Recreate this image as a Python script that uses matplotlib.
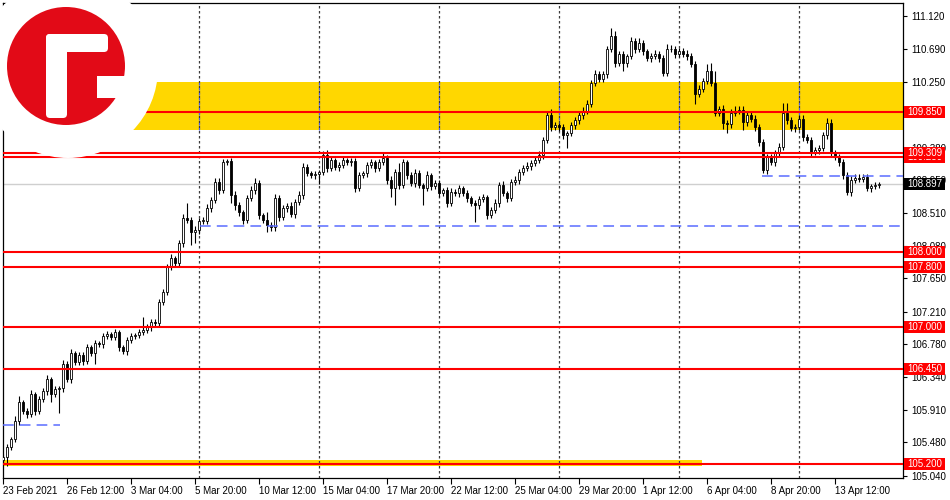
import matplotlib
matplotlib.use('Agg')
import matplotlib.pyplot as plt
import matplotlib.transforms as mtransforms
from matplotlib.patches import Rectangle, Circle, FancyBboxPatch

plt.rcParams['font.family'] = ['Liberation Sans', 'DejaVu Sans']

# ---------------- data (4H candles) ----------------
first_open = 105.25
closes = [
    105.291, 105.422, 105.527, 105.764, 106.014, 105.896, 105.856, 106.120, 105.896, 106.054,
    106.159, 106.317, 106.120, 106.185, 106.199, 106.514, 106.317, 106.659, 106.541, 106.633,
    106.554, 106.738, 106.659, 106.791, 106.785, 106.883, 106.909, 106.870, 106.935, 106.738,
    106.685, 106.830, 106.883, 106.896, 106.935, 106.962, 107.001, 107.067, 107.060, 107.343,
    107.475, 107.804, 107.922, 107.856, 108.120, 108.449, 108.422, 108.264, 108.291, 108.409,
    108.415, 108.580, 108.685, 108.922, 108.817, 109.185, 109.199, 108.751, 108.620, 108.528,
    108.422, 108.712, 108.817, 108.909, 108.488, 108.422, 108.356, 108.330, 108.712, 108.462,
    108.580, 108.606, 108.501, 108.659, 108.751, 109.120, 109.041, 109.014, 109.035, 109.054,
    109.278, 109.106, 109.212, 109.120, 109.146, 109.212, 109.185, 109.199, 108.843, 109.014,
    109.041, 109.146, 109.185, 109.106, 109.185, 109.238, 108.949, 108.843, 109.054, 108.883,
    109.185, 109.014, 108.909, 109.041, 108.883, 108.843, 109.014, 108.870, 108.909, 108.777,
    108.817, 108.646, 108.791, 108.777, 108.843, 108.777, 108.712, 108.646, 108.620, 108.705,
    108.725, 108.488, 108.554, 108.646, 108.883, 108.777, 108.712, 108.922, 108.949, 109.054,
    109.106, 109.133, 109.172, 109.212, 109.278, 109.475, 109.804, 109.646, 109.672, 109.646,
    109.541, 109.567, 109.672, 109.738, 109.804, 109.870, 109.962, 110.238, 110.356, 110.291,
    110.350, 110.685, 110.856, 110.501, 110.620, 110.495, 110.593, 110.791, 110.685, 110.764,
    110.659, 110.567, 110.593, 110.620, 110.567, 110.370, 110.685, 110.680, 110.620, 110.659,
    110.620, 110.593, 110.488, 110.093, 110.159, 110.264, 110.396, 110.238, 109.843, 109.896,
    109.699, 109.690, 109.843, 109.870, 109.875, 109.712, 109.804, 109.764, 109.646, 109.449,
    109.080, 109.251, 109.185, 109.304, 109.383, 109.843, 109.738, 109.633, 109.646, 109.764,
    109.514, 109.475, 109.317, 109.343, 109.370, 109.541, 109.699, 109.304, 109.251, 109.185,
    109.014, 108.791, 108.949, 108.975, 108.970, 108.988, 108.843, 108.870, 108.880, 108.897,
]
wick_up = [
    0.03, 0.04, 0.03, 0.07, 0.08, 0.03, 0.04, 0.05, 0.03, 0.04,
    0.04, 0.05, 0.03, 0.04, 0.03, 0.05, 0.04, 0.05, 0.03, 0.04,
    0.04, 0.05, 0.03, 0.04, 0.03, 0.05, 0.04, 0.03, 0.05, 0.03,
    0.03, 0.04, 0.04, 0.03, 0.05, 0.18, 0.04, 0.05, 0.04, 0.03,
    0.04, 0.03, 0.05, 0.03, 0.04, 0.05, 0.20, 0.04, 0.05, 0.04,
    0.04, 0.05, 0.04, 0.05, 0.05, 0.04, 0.03, 0.04, 0.05, 0.04,
    0.03, 0.04, 0.05, 0.07, 0.04, 0.03, 0.10, 0.04, 0.05, 0.04,
    0.04, 0.04, 0.05, 0.04, 0.05, 0.05, 0.04, 0.03, 0.04, 0.03,
    0.05, 0.07, 0.04, 0.03, 0.04, 0.05, 0.03, 0.04, 0.04, 0.04,
    0.03, 0.04, 0.05, 0.03, 0.04, 0.07, 0.04, 0.05, 0.04, 0.12,
    0.04, 0.03, 0.04, 0.05, 0.04, 0.03, 0.05, 0.03, 0.04, 0.04,
    0.03, 0.04, 0.05, 0.04, 0.04, 0.03, 0.04, 0.03, 0.04, 0.04,
    0.04, 0.03, 0.04, 0.05, 0.04, 0.05, 0.03, 0.04, 0.05, 0.04,
    0.04, 0.05, 0.04, 0.04, 0.05, 0.05, 0.04, 0.08, 0.04, 0.03,
    0.04, 0.03, 0.04, 0.05, 0.04, 0.05, 0.05, 0.04, 0.05, 0.04,
    0.04, 0.04, 0.11, 0.07, 0.04, 0.04, 0.03, 0.05, 0.04, 0.06,
    0.04, 0.03, 0.04, 0.05, 0.04, 0.04, 0.06, 0.05, 0.04, 0.04,
    0.04, 0.05, 0.04, 0.04, 0.05, 0.04, 0.09, 0.10, 0.16, 0.04,
    0.05, 0.04, 0.05, 0.06, 0.05, 0.05, 0.04, 0.05, 0.04, 0.04,
    0.04, 0.04, 0.05, 0.04, 0.06, 0.12, 0.12, 0.05, 0.04, 0.05,
    0.04, 0.04, 0.05, 0.04, 0.05, 0.04, 0.07, 0.06, 0.04, 0.04,
    0.04, 0.04, 0.05, 0.06, 0.05, 0.04, 0.04, 0.03, 0.04, 0.03,
]
wick_dn = [
    0.05, 0.12, 0.04, 0.04, 0.05, 0.04, 0.05, 0.04, 0.05, 0.04,
    0.04, 0.05, 0.11, 0.04, 0.32, 0.05, 0.04, 0.05, 0.04, 0.04,
    0.05, 0.04, 0.04, 0.14, 0.04, 0.05, 0.04, 0.04, 0.03, 0.05,
    0.04, 0.05, 0.04, 0.04, 0.03, 0.04, 0.04, 0.05, 0.04, 0.05,
    0.04, 0.05, 0.04, 0.05, 0.04, 0.05, 0.04, 0.17, 0.15, 0.05,
    0.04, 0.04, 0.05, 0.04, 0.05, 0.04, 0.04, 0.10, 0.06, 0.05,
    0.05, 0.04, 0.04, 0.05, 0.05, 0.04, 0.09, 0.05, 0.06, 0.05,
    0.04, 0.05, 0.04, 0.05, 0.04, 0.05, 0.04, 0.04, 0.05, 0.14,
    0.04, 0.05, 0.04, 0.04, 0.05, 0.04, 0.04, 0.05, 0.05, 0.04,
    0.04, 0.05, 0.04, 0.05, 0.04, 0.04, 0.05, 0.12, 0.22, 0.05,
    0.04, 0.05, 0.04, 0.05, 0.04, 0.22, 0.04, 0.05, 0.04, 0.05,
    0.04, 0.05, 0.04, 0.04, 0.05, 0.04, 0.05, 0.04, 0.22, 0.05,
    0.04, 0.05, 0.04, 0.04, 0.05, 0.04, 0.05, 0.04, 0.04, 0.05,
    0.04, 0.04, 0.05, 0.04, 0.04, 0.05, 0.04, 0.05, 0.04, 0.05,
    0.05, 0.17, 0.04, 0.05, 0.04, 0.05, 0.04, 0.05, 0.04, 0.05,
    0.04, 0.05, 0.04, 0.05, 0.04, 0.10, 0.05, 0.04, 0.05, 0.04,
    0.05, 0.04, 0.05, 0.04, 0.05, 0.05, 0.04, 0.04, 0.05, 0.04,
    0.04, 0.05, 0.04, 0.14, 0.05, 0.04, 0.05, 0.04, 0.04, 0.05,
    0.08, 0.12, 0.05, 0.04, 0.05, 0.10, 0.05, 0.04, 0.05, 0.05,
    0.04, 0.05, 0.04, 0.05, 0.04, 0.04, 0.05, 0.04, 0.05, 0.04,
    0.05, 0.04, 0.05, 0.04, 0.05, 0.04, 0.05, 0.05, 0.04, 0.05,
    0.05, 0.04, 0.05, 0.04, 0.04, 0.05, 0.04, 0.05, 0.04, 0.04,
]

date_labels = ["23 Feb 2021", "26 Feb 12:00", "3 Mar 04:00", "5 Mar 20:00", "10 Mar 12:00",
               "15 Mar 04:00", "17 Mar 20:00", "22 Mar 12:00", "25 Mar 04:00", "29 Mar 20:00",
               "1 Apr 12:00", "6 Apr 04:00", "8 Apr 20:00", "13 Apr 12:00"]
date_label_bars = [0, 16, 32, 48, 64, 80, 96, 112, 128, 144, 160, 176, 192, 208]
grid_bars = [49, 79, 109, 139, 169, 199]

price_ticks = [111.120, 110.690, 110.250, 109.820, 109.380, 108.950, 108.510, 108.080,
               107.650, 107.210, 106.780, 106.340, 105.910, 105.480, 105.040]
hidden_tick_labels = [109.820]   # fully covered by the 109.850 level box in the reference
red_levels = [109.850, 109.250, 109.309, 108.000, 107.800, 107.000, 106.450, 105.200]
current_price = 108.897
yellow_zone = (109.606, 110.251)
bottom_zone = (105.172, 105.251, 174.75)
blue_levels = [(108.342, 49.25, 225), (105.710, 0, 14.25), (109.003, 189.75, 225)]

# ---------------- figure ----------------
W, H = 950, 500
fig = plt.figure(figsize=(W / 100, H / 100), dpi=100)
fig.patch.set_facecolor('white')
ax = fig.add_axes([3 / W, 22 / H, 900 / W, 475 / H])
ax.set_xlim(0, 225)
ax.set_ylim(105.009, 111.292)

# zones
ax.axhspan(yellow_zone[0], yellow_zone[1], color='#ffd700', lw=0, zorder=1)
ax.fill_between([0, bottom_zone[2]], bottom_zone[0], bottom_zone[1], color='#ffd700', lw=0, zorder=1)

# vertical grid
for b in grid_bars:
    ax.axvline(b, color='#3a3a3a', lw=0.9, ls=(0, (2, 2)), zorder=2)
    ax.vlines(b, yellow_zone[0], yellow_zone[1], color='#4a5cff', lw=0.9, ls=(0, (2, 2)), zorder=2.1)

# current price line
ax.axhline(current_price, color='#cfcfcf', lw=1.0, zorder=2)

# candles
n = len(closes)
opens = [first_open] + closes[:-1]
xs = list(range(n))
highs = [max(o, c) + u for o, c, u in zip(opens, closes, wick_up)]
lows = [min(o, c) - d for o, c, d in zip(opens, closes, wick_dn)]
ax.vlines(xs, lows, highs, color='black', lw=0.8, zorder=4)
bottoms = [min(o, c) for o, c in zip(opens, closes)]
heights = [max(abs(c - o), 0.01) for o, c in zip(opens, closes)]
colors = ['white' if c >= o else 'black' for o, c in zip(opens, closes)]
ax.bar(xs, heights, bottom=bottoms, width=0.62, color=colors, edgecolor='black', linewidth=0.6, zorder=5)

# red horizontal levels
for lv in red_levels:
    ax.axhline(lv, color='#ff0000', lw=1.5, zorder=6)

# blue dashed lines
for lv, x0, x1 in blue_levels:
    ax.hlines(lv, x0, x1, color='#5a6cff', lw=1.1, ls=(0, (7, 4)), zorder=6)

# axes styling
for s in ax.spines.values():
    s.set_color('black')
    s.set_linewidth(0.9)
ax.yaxis.tick_right()
ax.set_yticks(price_ticks)
ax.set_yticklabels(['' if p in hidden_tick_labels else '%.3f' % p for p in price_ticks])
ax.tick_params(axis='y', direction='out', length=3, width=0.8, pad=3, labelsize=7, colors='black')
ax.set_xticks(date_label_bars)
ax.set_xticklabels(date_labels)
for t in ax.get_xticklabels():
    t.set_ha('left')
ax.tick_params(axis='x', direction='out', length=4, width=0.8, pad=2, labelsize=7, colors='black')

# price label boxes on the right axis
trans = mtransforms.blended_transform_factory(ax.transAxes, ax.transData)
box_h = 12 / 75.6
z = 10
for lv in red_levels:
    ax.add_patch(Rectangle((1.0015, lv - box_h / 2), 0.0455, box_h, transform=trans,
                           clip_on=False, fc='#ff0000', ec='none', zorder=z))
    ax.text(1.024, lv, '%.3f' % lv, transform=trans, ha='center', va='center',
            color='white', fontsize=7, zorder=z + 1, clip_on=False)
    z += 2
ax.add_patch(Rectangle((1.0015, current_price - box_h / 2), 0.0455, box_h, transform=trans,
                       clip_on=False, fc='black', ec='none', zorder=z))
ax.text(1.024, current_price, '%.3f' % current_price, transform=trans, ha='center', va='center',
        color='white', fontsize=7, zorder=z + 1, clip_on=False)

# logo overlay (pixel coordinates)
ov = fig.add_axes([0, 0, 1, 1], zorder=20)
ov.set_xlim(0, W)
ov.set_ylim(H, 0)
ov.axis('off')
ov.add_patch(Circle((68, 68), 90, fc='white', ec='none'))
ov.add_patch(Circle((66, 66), 59, fc='#e20a17', ec='none'))
ov.add_patch(FancyBboxPatch((46, 34), 62, 18, boxstyle='round,pad=0,rounding_size=4', fc='white', ec='none'))
ov.add_patch(FancyBboxPatch((46, 34), 21, 84, boxstyle='round,pad=0,rounding_size=4', fc='white', ec='none'))
ov.add_patch(Rectangle((97, 76), 40, 22, fc='white', ec='none'))

fig.savefig('out.png', dpi=100)
